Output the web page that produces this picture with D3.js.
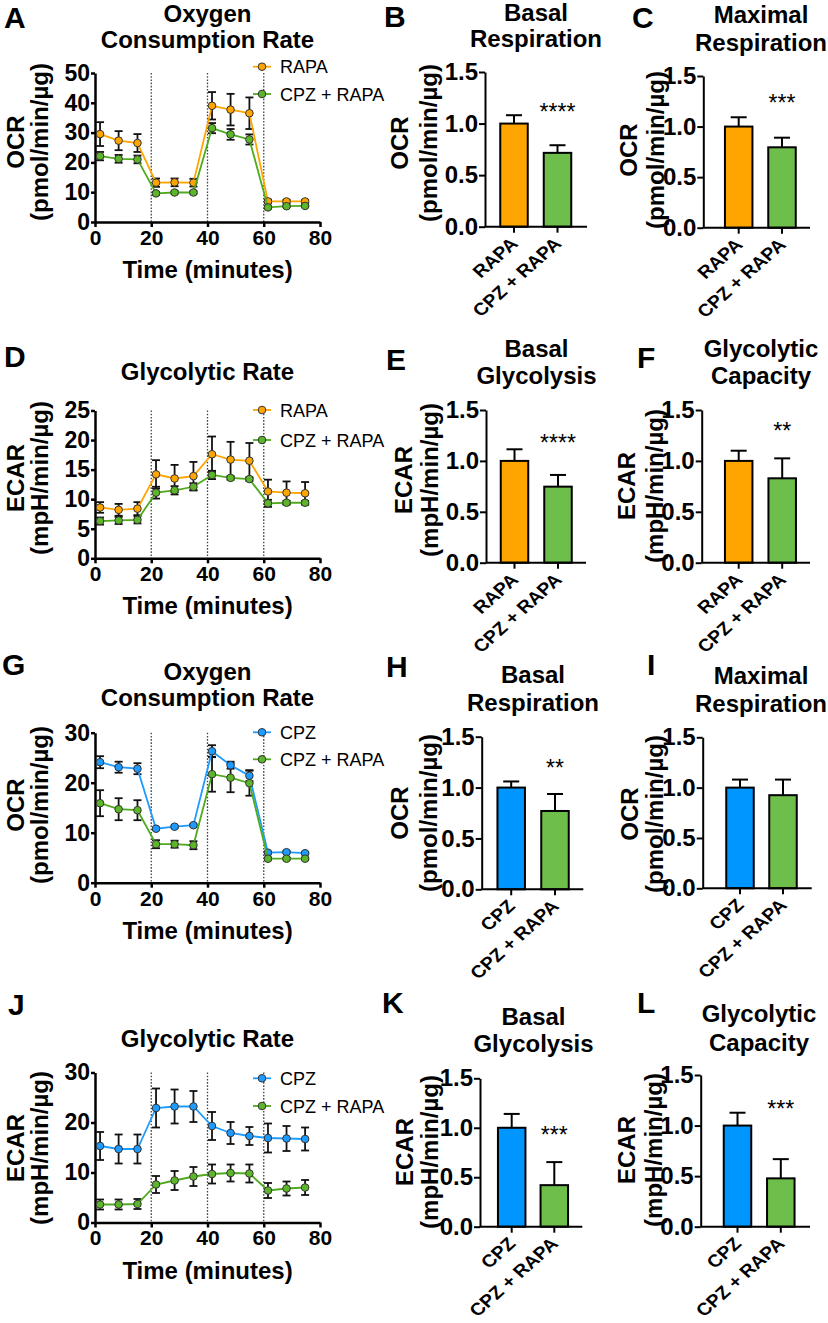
<!DOCTYPE html>
<html><head><meta charset="utf-8">
<script src="https://cdn.jsdelivr.net/npm/d3@7"></script>
<style>
body{margin:0;background:#fff}
svg{display:block}
text{font-family:"Liberation Sans", Arial, Helvetica, sans-serif; fill:#000}
</style>
</head><body><svg id="c" width="828" height="1323"></svg>
<script>
// ---------------- DATA ----------------
const timePoints = [1.8, 8.4, 15.1, 21.7, 28.3, 35.0, 41.6, 48.2, 54.9, 61.5, 68.1, 74.7];
const timeTicks = [0, 20, 40, 60, 80];
const injectionTimes = [20, 40, 60];

// Panel A: OCR, RAPA vs CPZ + RAPA
const ocrA_rapa        = [29.5, 27.3, 26.5, 13.2, 13.3, 13.2, 39.0, 37.7, 36.5, 6.9, 6.9, 6.9];
const ocrA_rapaErr     = [4.0, 3.2, 3.0, 1.4, 1.3, 1.3, 4.6, 5.3, 5.3, 0.6, 0.5, 0.5];
const ocrA_cpzRapa     = [22.1, 21.2, 21.0, 9.6, 9.9, 9.9, 31.5, 29.4, 27.7, 4.9, 5.3, 5.4];
const ocrA_cpzRapaErr  = [1.4, 1.3, 1.3, 0.5, 0.4, 0.4, 1.7, 1.8, 1.7, 0.4, 0.3, 0.3];

// Panel D: ECAR, RAPA vs CPZ + RAPA
const ecarD_rapa       = [8.6, 8.2, 8.4, 14.2, 13.5, 13.9, 17.6, 16.7, 16.5, 11.3, 11.1, 11.0];
const ecarD_rapaErr    = [0.9, 1.0, 1.1, 2.4, 2.3, 2.4, 3.0, 3.0, 3.0, 2.0, 1.9, 1.9];
const ecarD_cpzRapa    = [6.3, 6.4, 6.5, 11.1, 11.5, 12.1, 14.1, 13.6, 13.4, 9.3, 9.4, 9.4];
const ecarD_cpzRapaErr = [0.6, 0.6, 0.6, 1.0, 0.7, 0.6, 0.7, 0.3, 0.3, 0.6, 0.3, 0.3];

// Panel G: OCR, CPZ vs CPZ + RAPA
const ocrG_cpz         = [24.1, 23.1, 22.8, 10.8, 11.2, 11.5, 26.3, 23.5, 21.4, 6.0, 6.1, 5.9];
const ocrG_cpzErr      = [1.2, 1.1, 1.1, 0.2, 0.2, 0.2, 1.2, 0.7, 1.1, 0.2, 0.2, 0.2];
const ocrG_cpzRapa     = [15.9, 14.7, 14.5, 7.7, 7.7, 7.5, 21.7, 21.0, 19.9, 4.8, 4.8, 4.8];
const ocrG_cpzRapaErr  = [2.6, 2.2, 2.0, 0.8, 0.7, 0.8, 3.5, 2.9, 2.5, 0.2, 0.2, 0.2];

// Panel J: ECAR, CPZ vs CPZ + RAPA
const ecarJ_cpz        = [15.3, 14.7, 14.7, 22.9, 23.2, 23.2, 19.3, 17.9, 17.3, 16.9, 16.8, 16.7];
const ecarJ_cpzErr     = [2.8, 2.9, 2.9, 3.9, 3.4, 3.1, 2.8, 2.2, 1.8, 2.9, 2.5, 2.3];
const ecarJ_cpzRapa    = [3.6, 3.6, 3.7, 7.6, 8.4, 9.2, 9.7, 9.9, 9.8, 6.4, 6.8, 7.0];
const ecarJ_cpzRapaErr = [1.0, 1.0, 1.0, 1.7, 1.9, 1.9, 1.9, 1.7, 1.8, 1.5, 1.4, 1.5];

// Bar charts (normalised)
const groupsRapa = ["RAPA", "CPZ + RAPA"];
const groupsCpz  = ["CPZ", "CPZ + RAPA"];
const barTicks = [0, 0.5, 1.0, 1.5];

const basalRespB = [1.0, 0.716],  basalRespBErr = [0.081, 0.074];
const maxRespC   = [1.0, 0.795],  maxRespCErr   = [0.092, 0.095];
const basalGlyE  = [1.0, 0.747],  basalGlyEErr  = [0.114, 0.115];
const glyCapF    = [1.0, 0.829],  glyCapFErr    = [0.100, 0.196];
const basalRespH = [1.0, 0.770],  basalRespHErr = [0.060, 0.167];
const maxRespI   = [1.0, 0.925],  maxRespIErr   = [0.080, 0.155];
const basalGlyK  = [1.0, 0.420],  basalGlyKErr  = [0.140, 0.233];
const glyCapL    = [1.0, 0.478],  glyCapLErr    = [0.127, 0.190];

const sigB = "****", sigC = "***", sigE = "****", sigF = "**", sigH = "**", sigI = "", sigK = "***", sigL = "***";

// ---------------- STYLE ----------------
const ORANGE = "#FFA500";
const GREEN_LINE = "#4FAA1E";
const GREEN_MK = "#5DB52A";
const GREEN_BAR = "#6DBE4B";
const BLUE_LINE = "#1E9BFF";
const BLUE_MK = "#1E9BFF";
const BLUE_BAR = "#0096FF";

const svg = d3.select("#c");

function letter(t, x, y) {
  svg.append("text").attr("x", x).attr("y", y).attr("font-size", 30).attr("font-weight", "bold").text(t);
}
function title(lines, cx, bases) {
  lines.forEach((l, i) => svg.append("text").attr("x", cx).attr("y", bases[i])
    .attr("text-anchor", "middle").attr("font-size", 24).attr("font-weight", "bold").text(l));
}
function yTitle(lines, xs, cy) {
  lines.forEach((l, i) => svg.append("text").attr("transform", `translate(${xs[i]},${cy}) rotate(-90)`)
    .attr("text-anchor", "middle").attr("font-size", 24).attr("font-weight", "bold").text(l));
}
function styleAxis(g, w, fs) {
  g.select(".domain").attr("stroke", "#000").attr("stroke-width", w);
  g.selectAll(".tick line").attr("stroke", "#000").attr("stroke-width", w);
  g.selectAll(".tick text").attr("font-size", fs).attr("font-weight", "bold")
    .attr("font-family", '"Liberation Sans", Arial, sans-serif').attr("fill", "#000");
}

function lineChart(c) {
  const left = 95, right = 320;
  const x = d3.scaleLinear().domain([0, 80]).range([left, right]);
  const y = d3.scaleLinear().domain([0, c.yMax]).range([c.bottom, c.top]);
  const g = svg.append("g");
  injectionTimes.forEach(t => g.append("line")
    .attr("x1", x(t)).attr("x2", x(t)).attr("y1", y(c.yMax)).attr("y2", y(0))
    .attr("stroke", "#444").attr("stroke-width", 1.3).attr("stroke-dasharray", "1.6,1.6"));
  const ya = g.append("g").attr("transform", `translate(${left},0)`)
    .call(d3.axisLeft(y).tickValues(c.yTicks).tickSize(4).tickSizeOuter(0).tickPadding(1).tickFormat(d3.format("d")));
  styleAxis(ya, 2.5, 23);
  const xa = g.append("g").attr("transform", `translate(0,${c.bottom})`)
    .call(d3.axisBottom(x).tickValues(timeTicks).tickSize(5).tickSizeOuter(0).tickPadding(3).tickFormat(d3.format("d")));
  styleAxis(xa, 2.5, 21);
  const line = d3.line().x((d, i) => x(timePoints[i])).y(d => y(d));
  c.series.forEach(s => {
    const eg = g.append("g");
    s.v.forEach((v, i) => {
      const xx = x(timePoints[i]), y1 = y(v + s.e[i]), y2 = y(v - s.e[i]);
      eg.append("line").attr("x1", xx).attr("x2", xx).attr("y1", y1).attr("y2", y2).attr("stroke", "#111").attr("stroke-width", 1.8);
      [y1, y2].forEach(yy => eg.append("line").attr("x1", xx - 4).attr("x2", xx + 4).attr("y1", yy).attr("y2", yy).attr("stroke", "#111").attr("stroke-width", 1.8));
    });
  });
  c.series.forEach(s => {
    g.append("path").datum(s.v).attr("d", line).attr("fill", "none").attr("stroke", s.line).attr("stroke-width", 1.8);
    g.selectAll(null).data(s.v).enter().append("circle")
      .attr("cx", (d, i) => x(timePoints[i])).attr("cy", d => y(d)).attr("r", 3.8)
      .attr("fill", s.fill).attr("stroke", "#333").attr("stroke-width", 1);
  });
  // legend
  c.series.forEach((s, i) => {
    const ly = c.legendY[i];
    g.append("line").attr("x1", 253).attr("x2", 271).attr("y1", ly).attr("y2", ly).attr("stroke", s.line).attr("stroke-width", 1.8);
    g.append("circle").attr("cx", 262).attr("cy", ly).attr("r", 3.8).attr("fill", s.fill).attr("stroke", "#333").attr("stroke-width", 1);
    g.append("text").attr("x", 280).attr("y", ly + 6.5).attr("font-size", 18).text(s.name);
  });
  g.append("text").attr("x", (left + right) / 2).attr("y", c.bottom + 56).attr("text-anchor", "middle")
    .attr("font-size", 24).attr("font-weight", "bold").text("Time (minutes)");
  letter(c.letter, c.letterPos[0], c.letterPos[1]);
  title(c.title, 207.5, c.titleBase);
  yTitle(c.yTitle, [24, 48], c.yTitleCy);
}

function barChart(c) {
  const x = d3.scalePoint().domain(c.groups).range([c.c0, c.c1]);
  const y = d3.scaleLinear().domain([0, 1.5]).range([c.bottom, c.top]);
  const bw = 27.5;
  const g = svg.append("g");
  c.values.forEach((v, i) => {
    const xc = x(c.groups[i]);
    const yt = y(v + c.errs[i]);
    g.append("line").attr("x1", xc).attr("x2", xc).attr("y1", y(v)).attr("y2", yt).attr("stroke", "#000").attr("stroke-width", 2);
    g.append("line").attr("x1", xc - 8).attr("x2", xc + 8).attr("y1", yt).attr("y2", yt).attr("stroke", "#000").attr("stroke-width", 2);
    g.append("rect").attr("x", xc - bw / 2).attr("y", y(v)).attr("width", bw).attr("height", y(0) - y(v))
      .attr("fill", c.colors[i]).attr("stroke", "#000").attr("stroke-width", 2);
  });
  const ya = g.append("g").attr("transform", `translate(${c.axisX},0)`)
    .call(d3.axisLeft(y).tickValues(barTicks).tickSize(6).tickSizeOuter(0).tickPadding(1).tickFormat(d3.format(".1f")));
  styleAxis(ya, 2, 24);
  g.append("line").attr("x1", c.axisX).attr("x2", c.axisRight).attr("y1", y(0)).attr("y2", y(0)).attr("stroke", "#000").attr("stroke-width", 2);
  c.groups.forEach(gr => {
    const xc = x(gr);
    g.append("line").attr("x1", xc).attr("x2", xc).attr("y1", y(0)).attr("y2", y(0) + 6).attr("stroke", "#000").attr("stroke-width", 2);
    g.append("text").attr("transform", `translate(${xc + 5},${y(0) + 18}) scale(1.12,1) rotate(-45)`)
      .attr("text-anchor", "end").attr("font-size", 17.5).attr("font-weight", "bold").text(gr);
  });
  if (c.sig) {
    g.append("text").attr("x", x(c.groups[1])).attr("y", c.sigY + 13).attr("text-anchor", "middle")
      .attr("font-size", 23).text(c.sig);
  }
  letter(c.letter, c.letterPos[0], c.letterPos[1]);
  title(c.title, c.titleX, c.titleBase);
  yTitle(c.yTitle, c.yTitleX, c.yTitleCy);
}

// ---------------- PANELS ----------------
const OCR_T = ["OCR", "(pmol/min/µg)"];
const ECAR_T = ["ECAR", "(mpH/min/µg)"];

lineChart({ top: 73, bottom: 222, yMax: 50, yTicks: [0, 10, 20, 30, 40, 50],
  series: [
    { v: ocrA_rapa, e: ocrA_rapaErr, name: "RAPA", line: ORANGE, fill: ORANGE },
    { v: ocrA_cpzRapa, e: ocrA_cpzRapaErr, name: "CPZ + RAPA", line: GREEN_LINE, fill: GREEN_MK }],
  legendY: [66.7, 94], letter: "A", letterPos: [4, 28],
  title: ["Oxygen", "Consumption Rate"], titleBase: [22, 48], yTitle: OCR_T, yTitleCy: 142 });

lineChart({ top: 410.5, bottom: 558.3, yMax: 25, yTicks: [0, 5, 10, 15, 20, 25],
  series: [
    { v: ecarD_rapa, e: ecarD_rapaErr, name: "RAPA", line: ORANGE, fill: ORANGE },
    { v: ecarD_cpzRapa, e: ecarD_cpzRapaErr, name: "CPZ + RAPA", line: GREEN_LINE, fill: GREEN_MK }],
  legendY: [410, 440], letter: "D", letterPos: [4, 367],
  title: ["Glycolytic Rate"], titleBase: [380], yTitle: ECAR_T, yTitleCy: 478 });

lineChart({ top: 732.7, bottom: 882.7, yMax: 30, yTicks: [0, 10, 20, 30],
  series: [
    { v: ocrG_cpz, e: ocrG_cpzErr, name: "CPZ", line: BLUE_LINE, fill: BLUE_MK },
    { v: ocrG_cpzRapa, e: ocrG_cpzRapaErr, name: "CPZ + RAPA", line: GREEN_LINE, fill: GREEN_MK }],
  legendY: [732.3, 759.3], letter: "G", letterPos: [2, 675],
  title: ["Oxygen", "Consumption Rate"], titleBase: [680, 706], yTitle: OCR_T, yTitleCy: 805 });

lineChart({ top: 1072.5, bottom: 1222.5, yMax: 30, yTicks: [0, 10, 20, 30],
  series: [
    { v: ecarJ_cpz, e: ecarJ_cpzErr, name: "CPZ", line: BLUE_LINE, fill: BLUE_MK },
    { v: ecarJ_cpzRapa, e: ecarJ_cpzRapaErr, name: "CPZ + RAPA", line: GREEN_LINE, fill: GREEN_MK }],
  legendY: [1078.3, 1106], letter: "J", letterPos: [8, 1015],
  title: ["Glycolytic Rate"], titleBase: [1047], yTitle: ECAR_T, yTitleCy: 1148 });

const OR_GR = [ORANGE, GREEN_BAR], BL_GR = [BLUE_BAR, GREEN_BAR];

barChart({ groups: groupsRapa, values: basalRespB, errs: basalRespBErr, colors: OR_GR, sig: sigB, sigY: 106.7,
  axisX: 485, axisRight: 587, c0: 514, c1: 557.5, top: 72, bottom: 226.7,
  letter: "B", letterPos: [384, 27], title: ["Basal", "Respiration"], titleX: 536, titleBase: [21, 47],
  yTitle: OCR_T, yTitleX: [408, 437], yTitleCy: 143 });
barChart({ groups: groupsRapa, values: maxRespC, errs: maxRespCErr, colors: OR_GR, sig: sigC, sigY: 98.3,
  axisX: 703.3, axisRight: 810, c0: 738.7, c1: 782, top: 76, bottom: 227.7,
  letter: "C", letterPos: [632, 28], title: ["Maximal", "Respiration"], titleX: 761, titleBase: [23, 51],
  yTitle: OCR_T, yTitleX: [637, 664], yTitleCy: 150 });
barChart({ groups: groupsRapa, values: basalGlyE, errs: basalGlyEErr, colors: OR_GR, sig: sigE, sigY: 438.3,
  axisX: 486, axisRight: 586, c0: 514.5, c1: 558, top: 410, bottom: 562.7,
  letter: "E", letterPos: [386, 370], title: ["Basal", "Glycolysis"], titleX: 536.5, titleBase: [357, 384],
  yTitle: ECAR_T, yTitleX: [412, 438], yTitleCy: 480 });
barChart({ groups: groupsRapa, values: glyCapF, errs: glyCapFErr, colors: OR_GR, sig: sigF, sigY: 426,
  axisX: 701.7, axisRight: 810, c0: 738.7, c1: 782.2, top: 410, bottom: 562.7,
  letter: "F", letterPos: [637, 368], title: ["Glycolytic", "Capacity"], titleX: 761, titleBase: [357, 384],
  yTitle: ECAR_T, yTitleX: [635, 663], yTitleCy: 486 });
barChart({ groups: groupsCpz, values: basalRespH, errs: basalRespHErr, colors: BL_GR, sig: sigH, sigY: 763.3,
  axisX: 481.7, axisRight: 583.3, c0: 511.2, c1: 555, top: 736.7, bottom: 889.3,
  letter: "H", letterPos: [386, 677], title: ["Basal", "Respiration"], titleX: 533, titleBase: [683, 711],
  yTitle: OCR_T, yTitleX: [408, 437], yTitleCy: 813 });
barChart({ groups: groupsCpz, values: maxRespI, errs: maxRespIErr, colors: BL_GR, sig: sigI, sigY: 0,
  axisX: 702.7, axisRight: 811.7, c0: 740, c1: 783, top: 737.3, bottom: 888.3,
  letter: "I", letterPos: [647, 675], title: ["Maximal", "Respiration"], titleX: 761, titleBase: [684, 712],
  yTitle: OCR_T, yTitleX: [638, 663], yTitleCy: 814 });
barChart({ groups: groupsCpz, values: basalGlyK, errs: basalGlyKErr, colors: BL_GR, sig: sigK, sigY: 1130,
  axisX: 480, axisRight: 582.3, c0: 511.7, c1: 554.3, top: 1078.3, bottom: 1226.7,
  letter: "K", letterPos: [382, 1013], title: ["Basal", "Glycolysis"], titleX: 533.5, titleBase: [1025, 1052],
  yTitle: ECAR_T, yTitleX: [413, 438], yTitleCy: 1152 });
barChart({ groups: groupsCpz, values: glyCapL, errs: glyCapLErr, colors: BL_GR, sig: sigL, sigY: 1104,
  axisX: 700.7, axisRight: 810, c0: 737.5, c1: 780.8, top: 1075, bottom: 1226.7,
  letter: "L", letterPos: [637, 1013], title: ["Glycolytic", "Capacity"], titleX: 759, titleBase: [1022, 1051],
  yTitle: ECAR_T, yTitleX: [635, 662], yTitleCy: 1150 });
</script>
</body></html>
